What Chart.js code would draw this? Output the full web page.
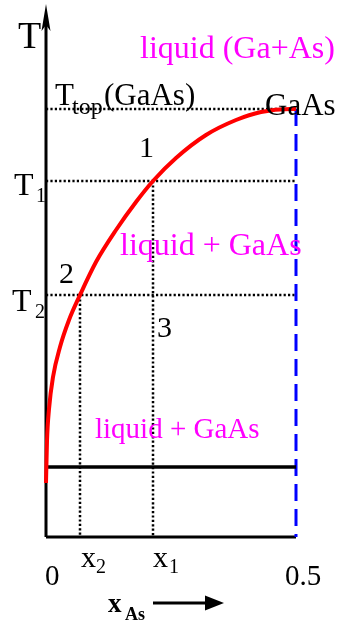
<!DOCTYPE html>
<html>
<head>
<meta charset="utf-8">
<title>Ga–As liquidus</title>
<script src="https://cdn.jsdelivr.net/npm/chart.js@4/dist/chart.umd.min.js"></script>
<style>
  html, body { margin: 0; padding: 0; background: #ffffff; }
  canvas { display: block; }
</style>
</head>
<body>
<canvas id="phase" width="347" height="621"></canvas>
<script>
// Liquidus of GaAs on the Ga-rich side (arbitrary temperature units)
const xAs       = [0, 0.002, 0.006, 0.014, 0.028, 0.046, 0.068, 0.1, 0.14, 0.18, 0.214, 0.26, 0.32, 0.38, 0.43, 0.488, 0.5];
const liquidusT = [54, 96, 128, 160, 190, 217, 242, 275, 307, 335, 356, 379, 402, 417, 425, 428, 428];

// Characteristic temperatures and compositions
const T_TOP = 428;
const T_1 = 356;
const T_2 = 242;
const T_EUTECTIC = 70;
const X_1 = 0.214;
const X_2 = 0.068;
const X_GAAS = 0.5;
const T_AXIS_MAX = 533;

const SERIF = "'Liberation Serif', 'Times New Roman', serif";
const MAGENTA = '#ff00ff';

const pts = (xs, ys) => xs.map((x, i) => ({ x: x, y: ys[i] }));

const dotted = (data) => ({
  data: data,
  borderColor: '#000000',
  borderWidth: 2.5,
  borderDash: [2.2, 2.2],
  pointRadius: 0,
  fill: false,
  clip: false
});

const solid = (data, color, width) => ({
  data: data,
  borderColor: color,
  borderWidth: width,
  pointRadius: 0,
  fill: false,
  clip: false
});

const liquidus = Object.assign(solid(pts(xAs, liquidusT), '#ff0000', 4), {
  cubicInterpolationMode: 'monotone'
});

const datasets = [
  liquidus,
  solid([{ x: 0, y: T_EUTECTIC }, { x: X_GAAS, y: T_EUTECTIC }], '#000000', 3.5),
  Object.assign(solid([{ x: X_GAAS, y: T_TOP }, { x: X_GAAS, y: 0 }], '#0000ff', 3), { borderDash: [17, 8] }),
  dotted([{ x: 0, y: T_TOP }, { x: X_GAAS, y: T_TOP }]),
  dotted([{ x: 0, y: T_1 }, { x: X_GAAS, y: T_1 }]),
  dotted([{ x: 0, y: T_2 }, { x: X_GAAS, y: T_2 }]),
  dotted([{ x: X_1, y: T_1 }, { x: X_1, y: 0 }]),
  dotted([{ x: X_2, y: T_2 }, { x: X_2, y: 0 }]),
  solid([{ x: 0, y: 0 }, { x: 0, y: T_AXIS_MAX - 20 }], '#000000', 3),
  solid([{ x: 0, y: 0 }, { x: X_GAAS, y: 0 }], '#000000', 3)
];

function text(ctx, str, x, y, size, color, weight) {
  ctx.font = (weight || 'normal') + ' ' + size + 'px ' + SERIF;
  ctx.fillStyle = color || '#000000';
  ctx.textAlign = 'left';
  ctx.textBaseline = 'alphabetic';
  ctx.fillText(str, x, y);
}

const annotations = {
  id: 'phaseAnnotations',
  afterDatasetsDraw(chart) {
    const ctx = chart.ctx;
    const xs = chart.scales.x;
    const ys = chart.scales.y;
    const px = (v) => xs.getPixelForValue(v);
    const py = (v) => ys.getPixelForValue(v);
    ctx.save();

    // Arrow head on the temperature axis
    const ax = px(0), top = py(T_AXIS_MAX);
    ctx.fillStyle = '#000000';
    ctx.beginPath();
    ctx.moveTo(ax, top);
    ctx.lineTo(ax + 4.5, top + 27);
    ctx.lineTo(ax, top + 21);
    ctx.lineTo(ax - 4.5, top + 27);
    ctx.closePath();
    ctx.fill();

    // Axis titles
    text(ctx, 'T', ax - 28, 48, 38);
    const xt = 108, yt = 612;
    text(ctx, 'x', xt, yt, 27, '#000000', 'bold');
    text(ctx, 'As', xt + 17, yt + 8, 18, '#000000', 'bold');
    ctx.strokeStyle = '#000000';
    ctx.lineWidth = 3;
    ctx.beginPath();
    ctx.moveTo(153, 603);
    ctx.lineTo(210, 603);
    ctx.stroke();
    ctx.beginPath();
    ctx.moveTo(224, 603);
    ctx.lineTo(205, 595.5);
    ctx.lineTo(205, 610.5);
    ctx.closePath();
    ctx.fill();

    // Temperature labels
    text(ctx, 'T', ax + 9, py(T_TOP) - 4, 31);
    text(ctx, 'top', ax + 26, py(T_TOP) + 5, 24);
    text(ctx, '(GaAs)', ax + 58, py(T_TOP) - 4, 31);
    text(ctx, 'T', ax - 32, py(T_1) + 14, 32);
    text(ctx, '1', ax - 10, py(T_1) + 21, 20);
    text(ctx, 'T', ax - 34, py(T_2) + 16, 32);
    text(ctx, '2', ax - 11, py(T_2) + 23, 20);

    // Composition labels
    text(ctx, 'x', px(X_2) + 1, 567, 30);
    text(ctx, '2', px(X_2) + 16, 573, 20);
    text(ctx, 'x', px(X_1), 567, 30);
    text(ctx, '1', px(X_1) + 16, 573, 20);
    text(ctx, '0', px(0) - 1, 585, 29);
    text(ctx, '0.5', px(X_GAAS) - 11, 585, 29);

    // Points on the cooling path
    text(ctx, '1', 139, 157, 30);
    text(ctx, '2', 59, 283, 30);
    text(ctx, '3', 157, 337, 30);

    // Phase fields
    text(ctx, 'GaAs', px(X_GAAS) - 31, py(T_TOP) + 6, 31);
    text(ctx, 'liquid (Ga+As)', 140, 58, 32, MAGENTA);
    text(ctx, 'liquid + GaAs', 120, 255, 32, MAGENTA);
    text(ctx, 'liquid + GaAs', 95, 438, 29, MAGENTA);

    ctx.restore();
  }
};

new Chart(document.getElementById('phase'), {
  type: 'line',
  data: { datasets: datasets },
  options: {
    responsive: false,
    animation: false,
    devicePixelRatio: 1,
    layout: { padding: { left: 46, right: 51, top: 4, bottom: 84 } },
    plugins: { legend: { display: false }, tooltip: { enabled: false } },
    scales: {
      x: { type: 'linear', min: 0, max: X_GAAS, display: false },
      y: { type: 'linear', min: 0, max: T_AXIS_MAX, display: false }
    }
  },
  plugins: [annotations]
});
</script>
</body>
</html>
